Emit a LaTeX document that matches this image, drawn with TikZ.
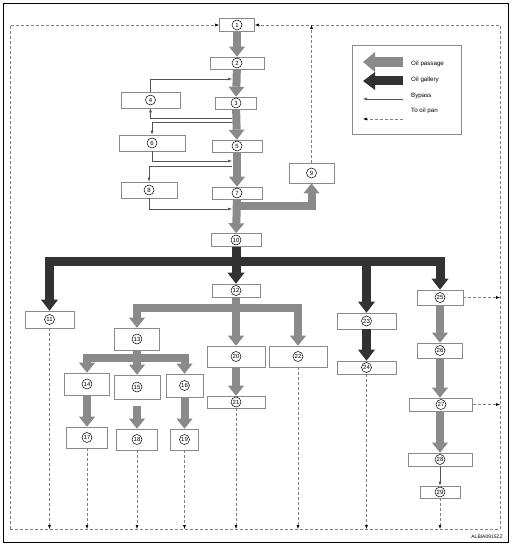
\documentclass[tikz,border=0pt]{standalone}
\usepackage{fontspec}
\setmainfont{Liberation Sans}
\usetikzlibrary{arrows.meta}
\definecolor{passgray}{HTML}{8A8A8A}
\definecolor{galldark}{HTML}{323232}
\definecolor{boxline}{HTML}{8A8A8A}
\definecolor{thinline}{HTML}{555555}
\definecolor{panline}{HTML}{808080}
\begin{document}
\begin{tikzpicture}[x=1pt,y=-1pt,
  every node/.style={font=\fontsize{6.2}{7}\selectfont},
  obox/.style={draw=boxline, line width=0.6pt, fill=white, inner sep=0pt},
  num/.style={label={[numc,name=c#1]center:#1}},
  numc/.style={circle, draw=black, line width=0.5pt, inner sep=0pt,
    minimum size=10pt, font=\fontsize{6}{6}\selectfont},
  passage/.style={draw=passgray, line width=8pt,
    -{Triangle[width=16pt,length=10pt,line width=0pt]}},
  gallery/.style={draw=galldark, line width=9pt,
    -{Triangle[width=17pt,length=11pt,line width=0pt]}},
  bypass/.style={draw=thinline, line width=0.5pt, -{Latex[length=4pt,width=3pt]}},
  topan/.style={draw=panline, line width=0.5pt, dash pattern=on 3pt off 2pt,
    -{Latex[length=4pt,width=3pt,color=black]}},
  legtext/.style={anchor=west, inner sep=0pt}]
  \useasboundingbox (0,0) rectangle (512,548);
  \draw[black, line width=0.8pt] (3,3) rectangle (508,542);

  % oil pan loop
  \coordinate (ftl) at (10,25);
  \coordinate (fbl) at (10,529);
  \coordinate (fbr) at (500,529);

  % main column
  \node[obox, minimum width=35pt, minimum height=13pt, num=1] (b1) at (237,25) {};
  \node[obox, minimum width=54pt, minimum height=12pt, num=2] (b2) at (237,63) {};
  \node[obox, minimum width=41pt, minimum height=12pt, num=3] (b3) at (236,103) {};
  \node[obox, minimum width=50pt, minimum height=12pt, num=5] (b5) at (237,146) {};
  \node[obox, minimum width=50pt, minimum height=12pt, num=7] (b7) at (237,193) {};
  \node[obox, minimum width=50pt, minimum height=13pt, num=10] (b10) at (236,240) {};
  \node[obox, minimum width=48pt, minimum height=13pt, num=12] (b12) at (236,290.5) {};
  \node[obox, minimum width=58pt, minimum height=21pt, num=20] (b20) at (236,356.5) {};
  \node[obox, minimum width=58pt, minimum height=12pt, num=21] (b21) at (236,402) {};

  % bypass boxes
  \node[obox, minimum width=59pt, minimum height=16pt, num=4] (b4) at (150.5,100) {};
  \node[obox, minimum width=66pt, minimum height=16pt, num=6] (b6) at (152,143) {};
  \node[obox, minimum width=56pt, minimum height=16pt, num=8] (b8) at (149,190) {};
  \node[obox, minimum width=45pt, minimum height=20pt, num=9] (b9) at (311.5,173) {};

  % branches
  \node[obox, minimum width=49pt, minimum height=17pt, num=11] (b11) at (49.5,319.5) {};
  \node[obox, minimum width=45pt, minimum height=22pt, num=13] (b13) at (137,339) {};
  \node[obox, minimum width=45pt, minimum height=22pt, num=14] (b14) at (87,384) {};
  \node[obox, minimum width=46pt, minimum height=24pt, num=15] (b15) at (137,387) {};
  \node[obox, minimum width=37pt, minimum height=23pt, num=16] (b16) at (184.5,385.5) {};
  \node[obox, minimum width=41pt, minimum height=21pt, num=17] (b17) at (87,437.5) {};
  \node[obox, minimum width=41pt, minimum height=21pt, num=18] (b18) at (137,439.5) {};
  \node[obox, minimum width=28pt, minimum height=21pt, num=19] (b19) at (184.5,439.5) {};
  \node[obox, minimum width=58pt, minimum height=21pt, num=22] (b22) at (298,356.5) {};
  \node[obox, minimum width=59pt, minimum height=16pt, num=23] (b23) at (366.5,321) {};
  \node[obox, minimum width=59pt, minimum height=13pt, num=24] (b24) at (366.5,367.5) {};
  \node[obox, minimum width=46pt, minimum height=15pt, num=25] (b25) at (440,297.5) {};
  \node[obox, minimum width=45pt, minimum height=15pt, num=26] (b26) at (440,350.5) {};
  \node[obox, minimum width=63pt, minimum height=13pt, num=27] (b27) at (441,404.5) {};
  \node[obox, minimum width=64pt, minimum height=13pt, num=28] (b28) at (440,459.5) {};
  \node[obox, minimum width=40pt, minimum height=12pt, num=29] (b29) at (440,492) {};

  % oil passage
  \coordinate (j7) at (236,206);
  \coordinate (pbar1) at (0,308);
  \coordinate (pbar2) at (0,358);
  \draw[passage] (b1) -- (b2);
  \draw[passage] (b2) -- (b3);
  \draw[passage] (b3) -- (b5);
  \draw[passage] (b5) -- (b7);
  \draw[passage] (b7) -- (b10);
  \draw[passage] (j7) -| (b9.south);
  \draw[passage] (b12) -- (b20);
  \draw[passage] (b12.south |- pbar1) -| (b13.north);
  \draw[passage] (b12.south |- pbar1) -| (b22.north);
  \draw[passage] (b13) -- (b15);
  \draw[passage] (b13.south |- pbar2) -| (b14.north);
  \draw[passage] (b13.south |- pbar2) -| (b16.north);
  \draw[passage] (b14) -- (b17);
  \draw[passage] ([yshift=-7pt]b15.south) -- (b18.north);
  \draw[passage] (b16) -- (b19);
  \draw[passage] (b20) -- (b21);
  \draw[passage] (b25) -- (b26);
  \draw[passage] (b26.south) -- (b26.south |- b27.north);
  \draw[passage] (b27.south -| b28) -- (b28.north);

  % oil gallery
  \coordinate (gbar) at (0,261);
  \draw[gallery] (b10) -- (b12);
  \draw[gallery] (b10.south |- gbar) -| (b11.north);
  \draw[gallery] (b10.south |- gbar) -| (b25.north);
  \draw[gallery] (b23.north |- gbar) -- (b23.north);
  \draw[gallery] (b23) -- (b24);

  % bypass
  \coordinate (s1) at (232,79);
  \coordinate (s2) at (232,118);
  \coordinate (s3) at (232,122);
  \coordinate (s4) at (232,161);
  \coordinate (s5) at (232,166);
  \coordinate (s6) at (232,209);
  \draw[bypass] (b4.north) |- (s1);
  \draw[bypass] (s2) -| (b4.south);
  \draw[bypass] (s3) -| (b6.north);
  \draw[bypass] (b6.south) |- (s4);
  \draw[bypass] (s5) -| (b8.north);
  \draw[bypass] (b8.south) |- (s6);
  \draw[bypass] (b28) -- (b29);

  % to oil pan
  \draw[topan, -] (fbl) -- (fbr);
  \draw[topan] (fbl) |- (b1.west);
  \draw[topan] (fbr) |- (b1.east);
  \draw[topan] (b9.north) -- (b9.north |- ftl);
  \foreach \b in {11,17,18,19,21,22,24,29}
    \draw[topan] (b\b.south) -- (b\b.south |- fbl);
  \draw[topan] (b25.east) -- (b25.east -| fbr);
  \draw[topan] (b27.east) -- (b27.east -| fbr);

  % legend
  \node[draw=boxline, line width=0.6pt, minimum width=109pt, minimum height=89pt,
    inner sep=0pt] (leg) at (406.5,89.5) {};
  \coordinate (lp0) at (403,62);  \coordinate (lp1) at (363,62);
  \coordinate (lg0) at (403,81);  \coordinate (lg1) at (363,81);
  \coordinate (lb0) at (403,99);  \coordinate (lb1) at (363,99);
  \coordinate (lt0) at (403,119); \coordinate (lt1) at (363,119);
  \draw[passage, line width=10pt,
    -{Triangle[width=20pt,length=12pt,line width=0pt]}] (lp0) -- (lp1);
  \draw[gallery, line width=9pt,
    -{Triangle[width=18pt,length=12pt,line width=0pt]}] (lg0) -- (lg1);
  \draw[bypass] (lb0) -- (lb1);
  \draw[topan] (lt0) -- (lt1);
  \node[legtext] (txp) at (411,64) {Oil passage};
  \node[legtext] (txg) at (411,80) {Oil gallery};
  \node[legtext] (txb) at (411,96) {Bypass};
  \node[legtext] (txt) at (411,111) {To oil pan};

  \node[anchor=east, inner sep=0pt, font=\fontsize{5}{6}\selectfont] (code) at (503,537) {ALBIA0915ZZ};
\end{tikzpicture}
\end{document}
